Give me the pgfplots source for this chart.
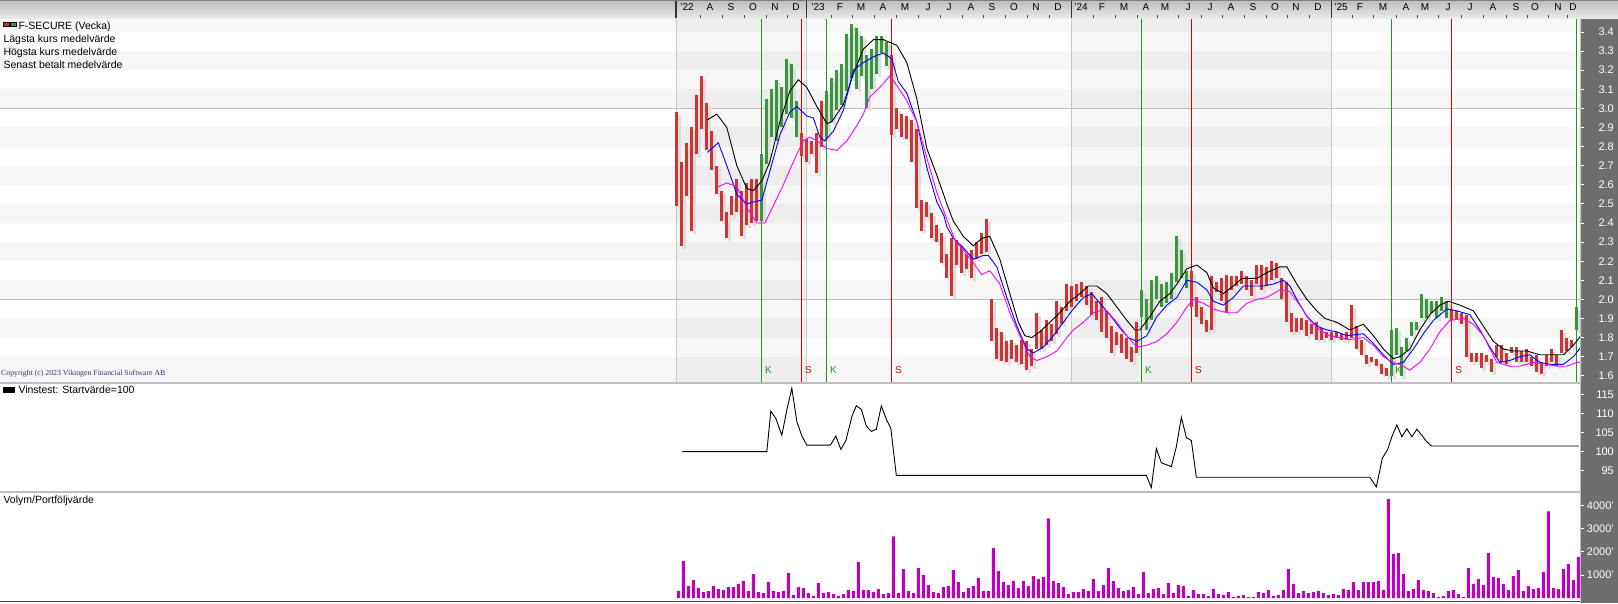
\documentclass[border=0pt]{standalone}
\usepackage{pgfplots}
\pgfplotsset{compat=1.18}
\usepackage{pgfplotstable}
\usepackage{fontspec}
\setmainfont{Liberation Sans}
\newfontfamily\copyfont{Liberation Serif}

\definecolor{barred}{RGB}{206,52,52}
\definecolor{bargreen}{RGB}{58,150,58}
\definecolor{shadowc}{RGB}{222,222,222}
\definecolor{sigred}{RGB}{228,0,0}
\definecolor{siggreen}{RGB}{40,145,40}
\definecolor{maBlue}{RGB}{0,0,255}
\definecolor{maMag}{RGB}{255,0,255}
\definecolor{volc}{RGB}{192,0,192}
\definecolor{stripc}{RGB}{110,110,110}
\definecolor{bandc}{RGB}{246,246,246}
\definecolor{gridc}{RGB}{190,190,190}
\definecolor{yearc}{RGB}{200,200,200}
\definecolor{hdtop}{RGB}{188,188,188}
\definecolor{hdbot}{RGB}{236,236,236}
\definecolor{copyc}{RGB}{60,50,110}

\pgfplotstableread{
w lo hi
0 2.49 2.98
1 2.28 2.72
2 2.54 2.82
3 2.36 2.90
4 2.76 3.07
5 2.89 3.17
6 2.78 3.03
7 2.68 2.88
8 2.55 2.70
9 2.41 2.57
10 2.32 2.46
11 2.44 2.54
12 2.46 2.63
13 2.33 2.57
14 2.39 2.61
15 2.40 2.63
16 2.41 2.63
25 2.75 2.87
26 2.72 2.84
27 2.76 2.83
28 2.66 2.87
29 2.80 3.04
43 2.86 3.28
44 2.89 3.00
45 2.85 2.97
46 2.84 2.96
47 2.72 2.94
48 2.48 2.89
49 2.36 2.52
50 2.43 2.51
51 2.32 2.45
52 2.30 2.39
53 2.19 2.35
54 2.11 2.24
55 2.02 2.32
56 2.18 2.31
57 2.14 2.28
58 2.16 2.24
59 2.11 2.26
60 2.21 2.30
61 2.24 2.35
62 2.25 2.42
63 1.78 2.00
64 1.69 1.85
65 1.68 1.83
66 1.67 1.78
67 1.69 1.79
68 1.67 1.76
69 1.66 1.79
70 1.63 1.78
71 1.65 1.74
72 1.74 1.93
73 1.74 1.84
74 1.76 1.89
75 1.78 1.87
76 1.82 1.99
77 1.87 1.96
78 1.94 2.08
79 1.96 2.07
80 1.99 2.08
81 2.01 2.09
82 1.97 2.07
83 1.92 2.04
84 1.89 1.99
85 1.83 2.01
86 1.80 1.94
87 1.72 1.86
88 1.76 1.83
89 1.72 1.82
90 1.69 1.80
91 1.67 1.75
92 1.72 1.88
103 1.96 2.15
104 1.91 2.01
105 1.87 1.96
106 1.83 1.89
107 1.84 2.12
108 2.04 2.09
109 1.99 2.11
110 1.93 2.13
111 2.05 2.12
112 2.07 2.12
113 2.08 2.15
114 2.05 2.12
115 2.02 2.10
116 2.08 2.18
117 2.05 2.18
118 2.07 2.17
119 2.10 2.20
120 2.11 2.19
121 2.00 2.11
122 1.88 2.09
123 1.83 1.93
124 1.83 1.90
125 1.84 1.90
126 1.81 1.89
127 1.82 1.87
128 1.79 1.88
129 1.79 1.85
130 1.80 1.83
131 1.79 1.83
132 1.80 1.83
133 1.79 1.82
134 1.79 1.83
135 1.80 1.97
136 1.74 1.86
137 1.71 1.79
138 1.66 1.71
139 1.67 1.70
140 1.65 1.69
141 1.61 1.66
142 1.60 1.64
155 1.89 1.95
156 1.89 1.94
157 1.87 1.93
158 1.70 1.92
159 1.67 1.72
160 1.67 1.72
161 1.64 1.72
162 1.67 1.71
163 1.62 1.69
164 1.70 1.76
165 1.67 1.76
166 1.66 1.72
167 1.72 1.75
168 1.67 1.75
169 1.67 1.73
170 1.67 1.74
171 1.65 1.70
172 1.62 1.71
173 1.61 1.67
174 1.65 1.71
175 1.67 1.74
176 1.65 1.71
177 1.72 1.84
178 1.73 1.80
179 1.75 1.79
}\redbars

\pgfplotstableread{
w lo hi
17 2.41 2.76
18 2.71 3.05
19 2.85 3.10
20 2.83 3.15
21 2.90 3.11
22 2.97 3.26
23 2.95 3.23
24 2.85 3.04
30 2.84 3.09
31 2.93 3.16
32 2.99 3.20
33 3.02 3.23
34 3.09 3.39
35 3.16 3.44
36 3.10 3.42
37 3.17 3.38
38 3.00 3.28
39 3.10 3.31
40 3.18 3.38
41 3.29 3.38
42 3.22 3.35
93 1.91 2.05
94 1.84 2.00
95 1.89 2.10
96 2.00 2.12
97 1.96 2.08
98 1.98 2.09
99 2.00 2.14
100 2.09 2.33
101 2.11 2.26
102 2.06 2.15
143 1.60 1.84
144 1.71 1.85
145 1.60 1.75
146 1.73 1.80
147 1.81 1.88
148 1.84 1.88
149 1.90 2.03
150 1.90 2.00
151 1.93 1.99
152 1.90 1.99
153 1.94 2.01
154 1.90 1.99
180 1.84 1.96
}\greenbars

\pgfplotstableread{
v
302
1595
517
776
431
259
302
517
388
345
474
474
604
733
302
1035
259
216
690
302
259
302
1078
129
474
431
216
86
647
216
259
172
86
172
345
302
1552
345
345
259
388
172
216
2672
216
1250
302
216
1293
992
560
259
216
474
517
1207
690
259
431
517
862
302
302
2155
1164
690
560
733
431
733
517
948
819
905
3448
733
647
474
172
259
259
388
302
819
302
560
1293
733
431
302
345
474
172
1121
216
388
431
172
647
216
560
517
86
345
172
172
86
388
172
129
259
43
86
129
43
43
259
216
345
86
129
345
1250
604
216
302
216
259
302
216
129
172
129
388
345
690
345
690
690
690
733
345
4280
1900
1940
1035
302
388
776
345
302
216
43
86
302
345
172
43
1293
604
819
560
1940
905
862
604
345
948
1207
302
517
388
431
1121
3750
431
388
1250
1466
776
1767
}\voltable

\begin{document}
\begin{tikzpicture}
\path[use as bounding box] (0pt,0pt) rectangle (1618pt,603pt);
\fill[white] (0pt,0pt) rectangle (1618pt,603pt);
\fill[stripc] (1581pt,0pt) rectangle (1618pt,584pt);

% ---------------- price panel ----------------
\begin{axis}[
  at={(0pt,221pt)}, anchor=south west, scale only axis,
  width=1581pt, height=362pt,
  xmin=-135.26, xmax=180.94, ymin=1.5675, ymax=3.4628,
  axis line style={draw=none},
  xtick=\empty,
  ytick={1.6,1.7,1.8,1.9,2.0,2.1,2.2,2.3,2.4,2.5,2.6,2.7,2.8,2.9,3.0,3.1,3.2,3.3,3.4},
  ytick pos=right, yticklabel pos=right,
  tick align=outside, major tick length=3pt,
  major tick style={white, line width=0.8pt},
  yticklabel style={text=white, font=\fontsize{11}{13}\selectfont, anchor=east, inner sep=0pt, xshift=30pt},
  /pgf/number format/fixed, /pgf/number format/fixed zerofill,
  /pgf/number format/precision=1, /pgf/number format/assume math mode=true,
]
% horizontal bands
\fill[bandc] (axis cs:-140,1.5) rectangle (axis cs:190,1.7);
\fill[bandc] (axis cs:-140,1.8) rectangle (axis cs:190,1.9);
\fill[bandc] (axis cs:-140,2.0) rectangle (axis cs:190,2.1);
\fill[bandc] (axis cs:-140,2.2) rectangle (axis cs:190,2.3);
\fill[bandc] (axis cs:-140,2.4) rectangle (axis cs:190,2.5);
\fill[bandc] (axis cs:-140,2.6) rectangle (axis cs:190,2.7);
\fill[bandc] (axis cs:-140,2.8) rectangle (axis cs:190,2.9);
\fill[bandc] (axis cs:-140,3.0) rectangle (axis cs:190,3.1);
\fill[bandc] (axis cs:-140,3.2) rectangle (axis cs:190,3.3);
\fill[bandc] (axis cs:-140,3.4) rectangle (axis cs:190,3.5);
% alternate year shading
\fill[black, opacity=0.035] (axis cs:0,1.5) rectangle (axis cs:26.08,3.5);
\fill[black, opacity=0.035] (axis cs:79.08,1.5) rectangle (axis cs:131.08,3.5);
% grid lines
\draw[gridc, line width=1pt] (axis cs:-140,2.0) -- (axis cs:190,2.0);
\draw[gridc, line width=1pt] (axis cs:-140,3.0) -- (axis cs:190,3.0);
\draw[yearc, line width=1pt] (axis cs:0,1.5) -- (axis cs:0,3.5);
\draw[yearc, line width=1pt] (axis cs:26.08,1.5) -- (axis cs:26.08,3.5);
\draw[yearc, line width=1pt] (axis cs:79.08,1.5) -- (axis cs:79.08,3.5);
\draw[yearc, line width=1pt] (axis cs:131.08,1.5) -- (axis cs:131.08,3.5);
% signal lines
\addplot[siggreen, line width=1pt, quiver={u=0, v=2.2}] table[x=w, y expr=1.4] {
w
17
30
93
143
180
};
\addplot[sigred, line width=1pt, quiver={u=0, v=2.2}] table[x=w, y expr=1.4] {
w
25
43
103
155
};
% shadows
\addplot[shadowc, line width=3pt, quiver={u=0, v=\thisrow{hi}-\thisrow{lo}}] table[x expr=\thisrow{w}+0.6, y expr=\thisrow{lo}-0.016] \redbars;
\addplot[shadowc, line width=3pt, quiver={u=0, v=\thisrow{hi}-\thisrow{lo}}] table[x expr=\thisrow{w}+0.6, y expr=\thisrow{lo}-0.016] \greenbars;
% bars
\addplot[barred, line width=3pt, quiver={u=0, v=\thisrow{hi}-\thisrow{lo}}] table[x=w, y=lo] \redbars;
\addplot[bargreen, line width=3pt, quiver={u=0, v=\thisrow{hi}-\thisrow{lo}}] table[x=w, y=lo] \greenbars;
% moving averages
\addplot[black, line width=0.9pt] coordinates {(6.2,2.94)(8.1,2.97)(10.1,2.90)(12.1,2.70)(14.1,2.58)(15.4,2.57)(17.1,2.62)(18.7,2.72)(20.7,2.93)(22.7,3.09)(24.4,3.15)(26.1,3.11)(28.1,3.01)(30.1,2.92)(31.1,2.93)(33.4,3.02)(35.4,3.18)(37.4,3.31)(39.4,3.36)(41.4,3.36)(44.1,3.33)(46.1,3.24)(48.1,3.05)(50.1,2.79)(52.1,2.65)(54.1,2.50)(55.4,2.41)(57.4,2.33)(59.4,2.28)(61.1,2.32)(62.7,2.33)(64.7,2.21)(66.7,2.03)(68.4,1.88)(69.7,1.81)(71.1,1.80)(72.7,1.83)(74.7,1.88)(76.7,1.93)(78.7,1.99)(80.7,2.03)(82.4,2.07)(84.1,2.07)(86.1,2.03)(88.1,1.96)(90.1,1.89)(91.7,1.84)(92.7,1.84)(94.7,1.91)(96.7,1.99)(98.7,2.03)(100.1,2.08)(102.1,2.16)(104.1,2.18)(106.1,2.14)(107.4,2.06)(109.4,2.03)(111.4,2.07)(113.1,2.11)(116.1,2.11)(118.1,2.14)(120.7,2.17)(122.1,2.17)(124.1,2.08)(126.1,2.00)(128.1,1.94)(129.7,1.90)(132.1,1.88)(134.7,1.84)(137.4,1.87)(139.4,1.81)(141.4,1.74)(143.4,1.69)(144.7,1.70)(146.7,1.74)(148.7,1.84)(150.7,1.92)(152.7,1.97)(154.4,1.99)(156.7,1.97)(159.4,1.94)(161.4,1.86)(163.4,1.78)(165.4,1.74)(167.4,1.73)(170.1,1.73)(172.7,1.71)(174.7,1.71)(177.4,1.71)(179.4,1.76)(180.9,1.81)};
\addplot[maBlue, line width=0.9pt] coordinates {(6.2,2.77)(8.4,2.82)(10.1,2.70)(12.1,2.55)(14.1,2.50)(15.4,2.51)(17.1,2.52)(18.7,2.67)(20.7,2.86)(22.7,2.98)(24.1,3.01)(26.1,2.96)(27.4,2.95)(28.7,2.85)(29.7,2.83)(31.4,2.88)(33.4,2.99)(35.4,3.20)(37.4,3.24)(39.4,3.27)(41.4,3.29)(43.1,3.26)(44.4,3.14)(46.1,3.08)(48.1,2.93)(50.1,2.69)(52.1,2.51)(53.5,2.44)(54.1,2.38)(55.4,2.32)(57.4,2.27)(59.4,2.21)(61.4,2.23)(62.4,2.23)(64.1,2.17)(66.1,2.01)(68.1,1.86)(70.1,1.74)(71.4,1.72)(73.4,1.75)(75.4,1.81)(77.4,1.88)(79.4,1.95)(81.4,2.01)(83.1,2.03)(84.7,1.98)(86.7,1.92)(88.7,1.85)(90.4,1.80)(92.1,1.78)(94.1,1.81)(96.1,1.91)(98.1,1.97)(100.1,2.01)(102.1,2.10)(104.1,2.09)(106.1,2.05)(107.4,1.99)(109.4,1.97)(111.4,2.01)(113.4,2.07)(115.4,2.07)(117.4,2.07)(119.4,2.08)(121.4,2.10)(122.7,2.07)(124.1,2.00)(126.1,1.91)(128.1,1.86)(130.1,1.84)(132.1,1.83)(134.1,1.81)(137.4,1.82)(139.4,1.77)(141.4,1.71)(143.4,1.66)(145.4,1.67)(147.4,1.74)(149.4,1.82)(151.4,1.89)(154.1,1.95)(156.1,1.94)(158.7,1.92)(160.7,1.84)(162.7,1.75)(164.7,1.67)(166.7,1.68)(168.7,1.70)(170.7,1.71)(172.7,1.67)(174.7,1.66)(177.4,1.66)(179.4,1.70)(180.9,1.75)};
\addplot[maMag, line width=0.9pt] coordinates {(8.4,2.59)(10.1,2.61)(12.1,2.59)(14.1,2.48)(16.1,2.40)(17.7,2.40)(19.4,2.49)(21.4,2.60)(23.4,2.72)(25.4,2.83)(26.7,2.85)(28.1,2.83)(30.1,2.79)(32.1,2.78)(34.1,2.83)(36.1,2.91)(37.4,2.97)(38.7,3.06)(40.7,3.11)(42.7,3.17)(44.1,3.12)(46.1,3.04)(48.1,2.93)(50.1,2.74)(52.1,2.56)(54.1,2.42)(55.7,2.31)(57.4,2.26)(59.4,2.19)(61.1,2.13)(62.7,2.15)(64.7,2.08)(66.7,1.93)(68.7,1.81)(70.7,1.70)(72.1,1.68)(74.1,1.70)(76.1,1.73)(78.1,1.80)(79.4,1.84)(81.4,1.88)(83.4,1.93)(84.7,1.94)(86.1,1.94)(88.1,1.88)(90.1,1.81)(92.1,1.75)(94.1,1.76)(96.1,1.78)(98.1,1.82)(100.1,1.88)(102.1,1.96)(103.4,2.00)(105.4,1.98)(107.4,1.95)(110.1,1.93)(112.1,1.93)(114.1,1.98)(116.1,2.00)(118.1,2.01)(120.7,2.05)(122.7,2.04)(124.7,1.97)(126.7,1.89)(128.7,1.84)(130.7,1.81)(132.7,1.80)(134.7,1.79)(137.4,1.80)(139.4,1.76)(141.4,1.70)(143.4,1.67)(145.4,1.65)(146.7,1.63)(148.7,1.67)(150.7,1.74)(152.7,1.83)(154.7,1.89)(157.4,1.90)(159.4,1.87)(161.4,1.81)(164.1,1.67)(166.7,1.65)(168.7,1.65)(171.4,1.67)(174.1,1.66)(176.1,1.65)(178.1,1.65)(180.1,1.67)(180.9,1.67)};
% signal letters
\node[anchor=south west, inner sep=0pt, text=siggreen, font=\fontsize{10}{12}\selectfont] at (axis cs:17.74,1.612) {K};
\node[anchor=south west, inner sep=0pt, text=sigred, font=\fontsize{10}{12}\selectfont] at (axis cs:25.74,1.612) {S};
\node[anchor=south west, inner sep=0pt, text=siggreen, font=\fontsize{10}{12}\selectfont] at (axis cs:30.74,1.612) {K};
\node[anchor=south west, inner sep=0pt, text=sigred, font=\fontsize{10}{12}\selectfont] at (axis cs:43.74,1.612) {S};
\node[anchor=south west, inner sep=0pt, text=siggreen, font=\fontsize{10}{12}\selectfont] at (axis cs:93.74,1.612) {K};
\node[anchor=south west, inner sep=0pt, text=sigred, font=\fontsize{10}{12}\selectfont] at (axis cs:103.74,1.612) {S};
\node[anchor=south west, inner sep=0pt, text=siggreen, font=\fontsize{10}{12}\selectfont] at (axis cs:143.74,1.612) {K};
\node[anchor=south west, inner sep=0pt, text=sigred, font=\fontsize{10}{12}\selectfont] at (axis cs:155.74,1.612) {S};
\end{axis}

% ---------------- Vinsttest panel ----------------
\begin{axis}[
  at={(0pt,111pt)}, anchor=south west, scale only axis,
  width=1581pt, height=109pt,
  xmin=-135.26, xmax=180.94, ymin=89.45, ymax=117.98,
  axis line style={draw=none},
  xtick=\empty,
  ytick={95,100,105,110,115},
  ytick pos=right, yticklabel pos=right,
  tick align=outside, major tick length=3pt,
  major tick style={white, line width=0.8pt},
  yticklabel style={text=white, font=\fontsize{11}{13}\selectfont, anchor=east, inner sep=0pt, xshift=30pt},
  /pgf/number format/assume math mode=true,
]
\addplot[black, line width=0.9pt] coordinates {(1.2,100)(18.1,100)(18.9,110.6)(19.9,108.7)(21.1,104.3)(22.1,110.9)(23.1,116.6)(24.1,107.9)(25.1,104.1)(26.1,101.7)(30.8,101.7)(31.9,104.1)(32.9,100.6)(33.9,102.9)(35.2,109.6)(36.0,112.0)(37.0,111.1)(38.0,106.7)(39.0,105.3)(40.0,105.9)(41.0,112.0)(42.0,108.5)(42.9,106.1)(44.0,93.8)(94.0,93.8)(95.0,90.6)(96.0,100.8)(97.0,97.1)(98.2,96.5)(99.0,96.1)(100.0,101.3)(101.0,109.0)(102.0,103.7)(103.0,102.9)(104.0,93.3)(138.7,93.3)(140.0,90.8)(141.2,98.3)(142.2,100.4)(143.1,103.9)(144.1,107.0)(145.1,103.9)(146.1,106.0)(147.1,103.9)(148.1,105.9)(149.1,104.3)(150.0,102.7)(151.0,101.5)(180.5,101.5)};
\end{axis}

% ---------------- volume panel ----------------
\begin{axis}[
  at={(0pt,1pt)}, anchor=south west, scale only axis,
  width=1581pt, height=109pt,
  xmin=-135.26, xmax=180.94, ymin=-173, ymax=4545,
  axis line style={draw=none},
  xtick=\empty,
  ytick={1000,2000,3000,4000},
  yticklabels={1000',2000',3000',4000'},
  ytick pos=right, yticklabel pos=right,
  tick align=outside, major tick length=3pt,
  major tick style={white, line width=0.8pt},
  yticklabel style={text=white, font=\fontsize{11}{13}\selectfont, anchor=east, inner sep=0pt, xshift=30pt},
]
\addplot[ybar, bar width=3pt, fill=volc, draw=none] table[x expr=\coordindex+0.4, y=v] \voltable;
\end{axis}

% panel borders
\draw[gridc, line width=2pt] (0pt,220.3pt) -- (1581pt,220.3pt);
\draw[gridc, line width=2pt] (0pt,110.5pt) -- (1581pt,110.5pt);
\draw[black!75, line width=1.2pt] (0pt,1.2pt) -- (1581pt,1.2pt);
\draw[gridc, line width=1pt] (1580.5pt,0pt) -- (1580.5pt,584pt);

% legend texts
\fill[barred, draw=black, line width=0.4pt] (3.3pt,576.3pt) rectangle (9.5pt,580.7pt);
\fill[bargreen, draw=black, line width=0.4pt] (10pt,576.3pt) rectangle (16.2pt,580.7pt);
\node[anchor=base west, inner sep=0pt, font=\fontsize{10.5}{12}\selectfont] at (18.3pt,573.7pt) {F-SECURE (Vecka)};
\node[anchor=base west, inner sep=0pt, font=\fontsize{10.5}{12}\selectfont] at (3.3pt,560.7pt) {Lägsta kurs medelvärde};
\node[anchor=base west, inner sep=0pt, font=\fontsize{10.5}{12}\selectfont] at (3.3pt,547.3pt) {Högsta kurs medelvärde};
\node[anchor=base west, inner sep=0pt, font=\fontsize{10.5}{12}\selectfont] at (3.3pt,534.7pt) {Senast betalt medelvärde};
\node[anchor=base west, inner sep=0pt, text=copyc, font=\copyfont\fontsize{7.8}{9}\selectfont] at (1pt,227.5pt) {Copyright (c) 2023 Vikingen Financial Software AB};
\fill[black] (3.3pt,210.3pt) rectangle (15pt,216.3pt);
\node[anchor=base west, inner sep=0pt, font=\fontsize{10.5}{12}\selectfont] at (18.3pt,209.7pt) {Vinstest: Startvärde=100};
\node[anchor=base west, inner sep=0pt, font=\fontsize{10.5}{12}\selectfont] at (3.3pt,99.2pt) {Volym/Portföljvärde};

% header
\shade[top color=hdtop, bottom color=hdbot] (0pt,584pt) rectangle (1618pt,603pt);
\draw[black!50, line width=1pt] (0pt,602.5pt) -- (1618pt,602.5pt);
\foreach \x in {700.5,722.5,744,766,787.5,831,852.5,874,896,918.5,940.5,962,983.5,1005,1027,1049,1093.5,1115,1137,1157.5,1178.5,1201,1222.5,1244,1266,1287.5,1309,1352.5,1373.5,1396.5,1417.5,1438.5,1461,1483.5,1506.5,1527.5,1548.5,1567.5}
  \draw[black!70, line width=0.8pt] (\x pt,584.5pt) -- (\x pt,588pt);
\foreach \x in {676,806.7,1071.7,1331.7}
  \draw[black!80, line width=1.2pt] (\x pt,584.5pt) -- (\x pt,601.5pt);
\foreach \x/\t in {687/'22,710/A,731/S,753/O,775/N,796/D,818/'23,840/F,861/M,883/A,905/M,928/J,949/J,971/A,992/S,1014/O,1036/N,1058/D,1081/'24,1102/F,1124/M,1146/A,1165/M,1188/J,1210/J,1231/A,1253/S,1275/O,1296/N,1318/D,1341/'25,1360/F,1383/M,1406/A,1425/M,1448/J,1470/J,1493/A,1516/S,1535/O,1558/N,1573/D}
  \node[font=\fontsize{10}{12}\selectfont, inner sep=0pt, anchor=base] at (\x pt,592.5pt) {\t};
\end{tikzpicture}
\end{document}
